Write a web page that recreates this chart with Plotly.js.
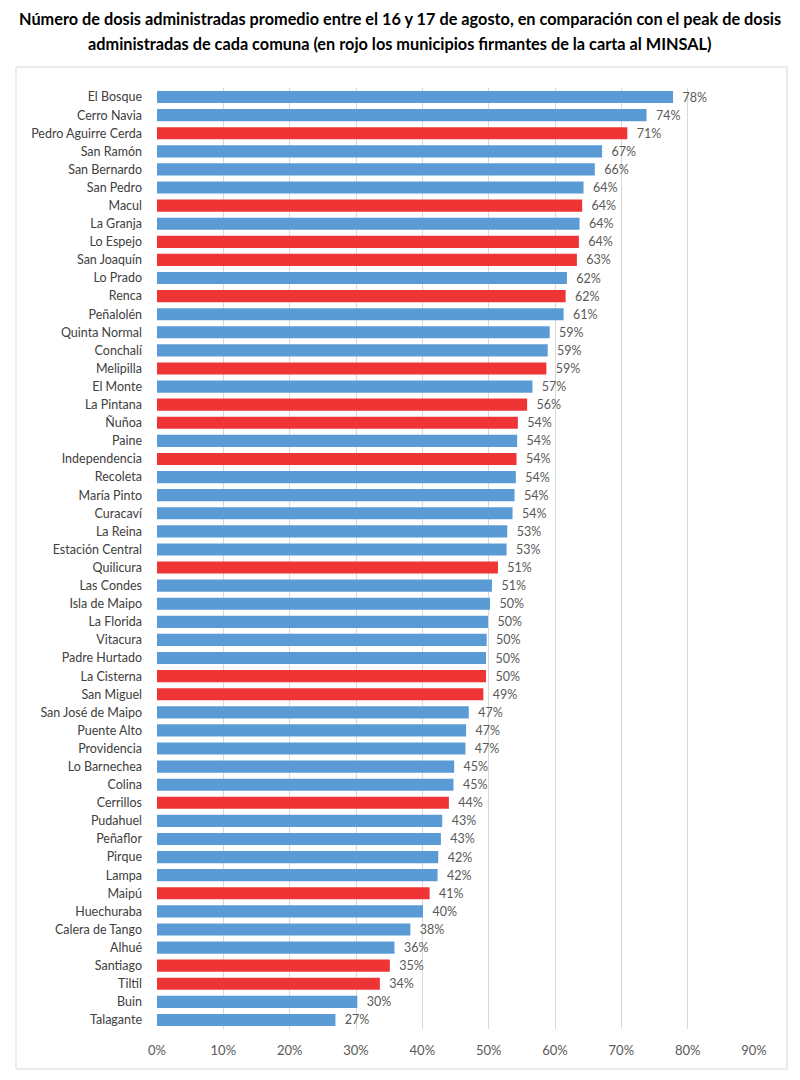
<!DOCTYPE html>
<html>
<head>
<meta charset="utf-8">
<script src="https://cdn.plot.ly/plotly-3.0.1.min.js"></script>
<style>
html,body{margin:0;padding:0;background:#fff;}
#chart{width:800px;height:1080px;}
</style>
</head>
<body>
<div id="chart"></div>
<script>
const comunas = ["El Bosque","Cerro Navia","Pedro Aguirre Cerda","San Ramón","San Bernardo","San Pedro","Macul","La Granja","Lo Espejo","San Joaquín","Lo Prado","Renca","Peñalolén","Quinta Normal","Conchalí","Melipilla","El Monte","La Pintana","Ñuñoa","Paine","Independencia","Recoleta","María Pinto","Curacaví","La Reina","Estación Central","Quilicura","Las Condes","Isla de Maipo","La Florida","Vitacura","Padre Hurtado","La Cisterna","San Miguel","San José de Maipo","Puente Alto","Providencia","Lo Barnechea","Colina","Cerrillos","Pudahuel","Peñaflor","Pirque","Lampa","Maipú","Huechuraba","Calera de Tango","Alhué","Santiago","Tiltil","Buin","Talagante"];
const porcentaje = [0.778,0.738,0.709,0.671,0.660,0.643,0.641,0.637,0.636,0.633,0.618,0.616,0.613,0.592,0.589,0.587,0.566,0.558,0.544,0.543,0.542,0.541,0.539,0.536,0.528,0.527,0.514,0.505,0.502,0.499,0.497,0.496,0.496,0.492,0.470,0.466,0.465,0.448,0.447,0.440,0.430,0.428,0.424,0.423,0.411,0.401,0.382,0.358,0.351,0.336,0.302,0.269];
const firmante = [0,0,1,0,0,0,1,0,1,1,0,1,0,0,0,1,0,1,1,0,1,0,0,0,0,0,1,0,0,0,0,0,1,1,0,0,0,0,0,1,0,0,0,0,1,0,0,0,1,1,0,0];
const xTicks = [0,0.1,0.2,0.3,0.4,0.5,0.6,0.7,0.8,0.9];
const tituloLineas = [
  'Número de dosis administradas promedio entre el 16 y 17 de agosto, en comparación con el peak de dosis',
  'administradas de cada comuna (en rojo los municipios firmantes de la carta al MINSAL)'
];

const AZUL = '#5B9BD5', ROJO = '#EE3434';
const colores = firmante.map(f => f ? ROJO : AZUL);

const W = 800, H = 1080;
const mL = 157, mR = 46, mT = 88, mB = 51;
const pw = W - mL - mR, ph = H - mT - mB;
const px = x => (x - mL) / pw;
const py = y => 1 - (y - mT) / ph;

const FONT = 'Lato, Calibri, "Open Sans", sans-serif';

const trace = {
  type: 'bar',
  orientation: 'h',
  x: porcentaje,
  y: comunas,
  marker: {color: colores, line: {width: 0}},
  texttemplate: '\u00a0\u00a0%{x:.0%}',
  textposition: 'outside',
  constraintext: 'none',
  cliponaxis: false,
  textfont: {family: FONT, size: 12.5, color: '#595959'},
  hoverinfo: 'none'
};

const layout = {
  width: W, height: H,
  margin: {l: mL, r: mR, t: mT, b: mB},
  paper_bgcolor: '#fff', plot_bgcolor: '#fff',
  showlegend: false,
  bargap: 0.33,
  xaxis: {
    range: [0, 0.9],
    tickvals: xTicks,
    tickformat: '.0%',
    showgrid: true, gridcolor: '#D9D9D9', gridwidth: 1,
    zeroline: false, showline: false,
    ticks: '', ticklabelstandoff: 12,
    tickfont: {family: FONT, size: 13, color: '#595959'},
    fixedrange: true
  },
  yaxis: {
    type: 'category',
    autorange: 'reversed',
    showgrid: false, zeroline: false, showline: false,
    ticks: '', ticklabelstandoff: 14,
    tickfont: {family: FONT, size: 12.5, color: '#404040'},
    fixedrange: true
  },
  annotations: tituloLineas.map((t, i) => ({
    text: '<b>' + t + '</b>',
    xref: 'paper', yref: 'paper',
    x: px(400), y: py(18 + i * 26),
    xanchor: 'center', yanchor: 'middle',
    showarrow: false,
    font: {family: FONT, size: 16.3, color: '#000'}
  })),
  shapes: [{
    type: 'rect', xref: 'paper', yref: 'paper',
    x0: px(16), x1: px(787), y0: py(1069), y1: py(67),
    line: {color: '#D9D9D9', width: 1}, fillcolor: 'rgba(0,0,0,0)', layer: 'below'
  }]
};

Plotly.newPlot('chart', [trace], layout, {staticPlot: true, displayModeBar: false});
</script>
</body>
</html>
